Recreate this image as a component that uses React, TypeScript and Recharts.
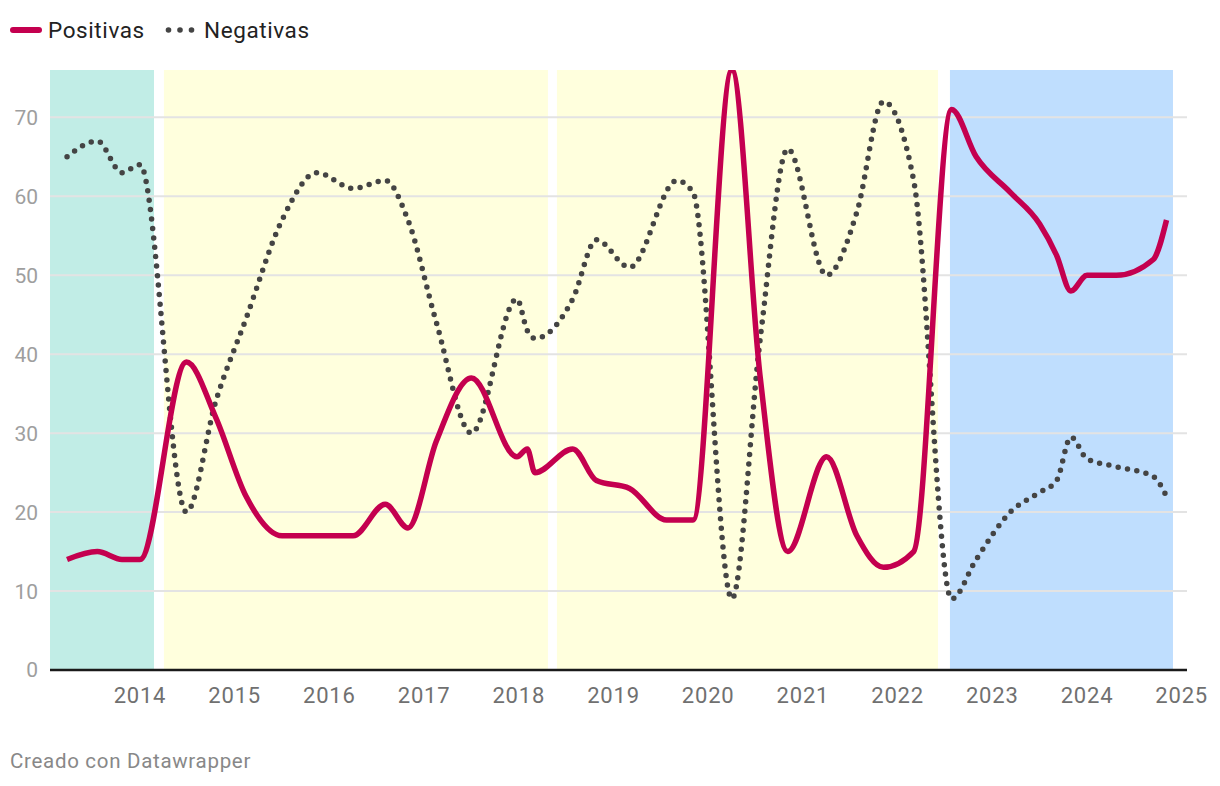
import React from 'react'
import {
  LineChart,
  Line,
  XAxis,
  YAxis,
  ReferenceArea,
  ReferenceLine,
} from 'recharts'

// survey dates (decimal years)
const posDates = [
  2013.23, 2013.55, 2013.81, 2014.0, 2014.49, 2014.8, 2015.12, 2015.5,
  2015.87, 2016.25, 2016.59, 2016.83, 2017.13, 2017.5, 2017.98, 2018.09,
  2018.17, 2018.57, 2018.82, 2019.17, 2019.56, 2019.84, 2020.25, 2020.55,
  2020.84, 2021.25, 2021.57, 2021.85, 2022.17, 2022.57, 2022.83, 2023.19,
  2023.5, 2023.68, 2023.83, 2024.0, 2024.31, 2024.7, 2024.84,
]
const posValues = [
  14, 15, 14, 14, 39, 32, 22, 17, 17, 17, 21, 18, 29, 37, 27, 28, 25, 28, 24,
  23, 19, 19, 76, 37, 15, 27, 17, 13, 15, 71, 65, 60.5, 56.5, 52.5, 48, 50,
  50, 52, 57,
]

const negDates = [
  2013.23, 2013.55, 2013.81, 2014.0, 2014.49, 2014.8, 2015.12, 2015.5,
  2015.87, 2016.25, 2016.59, 2016.83, 2017.13, 2017.5, 2017.98, 2018.09,
  2018.17, 2018.57, 2018.82, 2019.17, 2019.67, 2019.84, 2020.25, 2020.55,
  2020.84, 2021.25, 2021.57, 2021.85, 2022.17, 2022.57, 2022.83, 2023.19,
  2023.5, 2023.68, 2023.83, 2024.0, 2024.31, 2024.7, 2024.84,
]
const negValues = [
  65, 67, 63, 64, 20, 34, 44.5, 57, 63, 61, 62, 57, 44, 30, 47, 43, 42, 47,
  54.5, 51, 62, 60.5, 9, 42, 66, 50, 58, 72, 62, 9, 14, 20, 22.5, 24, 29.5,
  26.75, 25.75, 24.5, 22,
]

// government periods shown as coloured bands
const bandStarts = [2013.05, 2014.253, 2018.403, 2022.553]
const bandEnds = [2014.148, 2018.308, 2022.427, 2024.908]
const bandColors = ['#c1ede6', '#ffffdd', '#ffffdd', '#bfdefe']

const yearTicks = [
  2014, 2015, 2016, 2017, 2018, 2019, 2020, 2021, 2022, 2023, 2024, 2025,
]
const valueTicks = [0, 10, 20, 30, 40, 50, 60, 70]

const POS = '#c4004f'
const NEG = '#444444'

const posData = posDates.map((x, i) => ({ x, v: posValues[i] }))
const negData = negDates.map((x, i) => ({ x, v: negValues[i] }))

export default function App() {
  return (
    <div
      style={{
        position: 'absolute',
        left: 0,
        top: 0,
        width: 1220,
        height: 786,
        background: '#fff',
        fontFamily: 'Roboto, sans-serif',
      }}
    >
      <svg
        width={1220}
        height={786}
        style={{ position: 'absolute', left: 0, top: 0 }}
      >
        <line
          x1={13}
          y1={30}
          x2={39}
          y2={30}
          stroke={POS}
          strokeWidth={6}
          strokeLinecap="round"
        />
        <text x={48} y={37.5} fontSize={22.5} letterSpacing={0.6} fill="#222">
          Positivas
        </text>
        <circle cx={168.5} cy={30} r={2.8} fill={NEG} />
        <circle cx={180} cy={30} r={2.8} fill={NEG} />
        <circle cx={191.5} cy={30} r={2.8} fill={NEG} />
        <text x={204} y={37.5} fontSize={22.5} letterSpacing={0.6} fill="#222">
          Negativas
        </text>
        <text x={10} y={768} fontSize={20.5} letterSpacing={0.7} fill="#888">
          Creado con Datawrapper
        </text>
      </svg>
      <div style={{ position: 'absolute', left: 0, top: 0 }}>
        <LineChart
          width={1220}
          height={730}
          margin={{ top: 70, right: 33, left: 10, bottom: 20 }}
        >
          {bandStarts.map((s, i) => (
            <ReferenceArea
              key={i}
              x1={s}
              x2={bandEnds[i]}
              y1={0}
              y2={76}
              fill={bandColors[i]}
              fillOpacity={1}
              stroke="none"
              ifOverflow="visible"
            />
          ))}
          {valueTicks.slice(1).map((v) => (
            <ReferenceLine
              key={v}
              y={v}
              stroke="#e3e3e3"
              strokeWidth={2}
            />
          ))}
          <XAxis
            type="number"
            dataKey="x"
            domain={[2013.05, 2025.056]}
            ticks={yearTicks}
            allowDataOverflow
            tickLine={false}
            tickSize={0}
            tickMargin={17}
            height={40}
            axisLine={{ stroke: '#1a1a1a', strokeWidth: 2.5 }}
            tick={{ fill: '#707070', fontSize: 22, letterSpacing: 0.8 }}
          />
          <YAxis
            type="number"
            domain={[0, 76]}
            ticks={valueTicks}
            allowDataOverflow
            width={40}
            axisLine={false}
            tickLine={false}
            tickSize={0}
            tickMargin={12}
            tick={{ fill: '#9e9e9e', fontSize: 21 }}
          />
          <Line
            data={negData}
            dataKey="v"
            type="monotone"
            stroke={NEG}
            strokeWidth={5.5}
            strokeDasharray="0 9.5"
            strokeLinecap="round"
            dot={false}
            activeDot={false}
            isAnimationActive={false}
          />
          <Line
            data={posData}
            dataKey="v"
            type="monotone"
            stroke={POS}
            strokeWidth={5.5}
            dot={false}
            activeDot={false}
            isAnimationActive={false}
          />
        </LineChart>
      </div>
    </div>
  )
}
